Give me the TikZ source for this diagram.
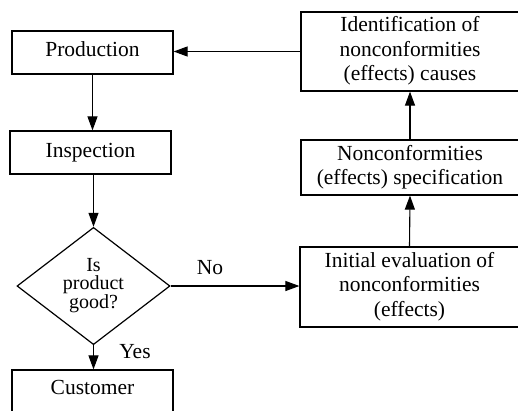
\documentclass[tikz,border=0pt]{standalone}
\usepackage{fontspec}
\setmainfont{Liberation Serif}
\usetikzlibrary{shapes.geometric,arrows.meta}
\tikzset{
  box/.style={draw, line width=1.2pt, rectangle, inner sep=0pt, align=center,
    font=\fontsize{21.5}{24.5}\selectfont},
  decision/.style={draw, line width=1.2pt, diamond, inner sep=0pt, align=center,
    minimum width=153pt, minimum height=103pt, font=\fontsize{20}{19}\selectfont},
  conn/.style={line width=1.1pt, -{Triangle[length=14pt,width=10pt]}},
  lbl/.style={font=\fontsize{21.5}{24.5}\selectfont, inner sep=0pt}
}
\begin{document}
\begin{tikzpicture}[x=1pt,y=-1pt]
\useasboundingbox (0,0) rectangle (518,410);
\node[box, minimum width=161pt, minimum height=43pt] (prod) at (92.5,52.5) {\raisebox{6pt}{Production}};
\node[box, minimum width=161pt, minimum height=43pt] (insp) at (90.5,152.5) {\raisebox{5pt}{Inspection}};
\node[decision] (dec) at (93.5,286) {\raisebox{-2pt}{\begin{tabular}{@{}c@{}}Is\\[-1pt]product\\[-1pt]good?\end{tabular}}};
\node[box, minimum width=161pt, minimum height=43pt] (cust) at (92.5,391.5) {\raisebox{9pt}{Customer}};
\node[box, minimum width=218pt, minimum height=79pt] (ident) at (410,51.5) {\raisebox{-2pt}{\begin{tabular}{@{}c@{}}Identification of\\nonconformities\\(effects) causes\end{tabular}}};
\node[box, minimum width=218pt, minimum height=55pt] (spec) at (410,167.5) {\raisebox{-2pt}{\begin{tabular}{@{}c@{}}Nonconformities\\(effects) specification\end{tabular}}};
\node[box, minimum width=219pt, minimum height=80pt] (init) at (409.5,287) {\raisebox{-2pt}{\begin{tabular}{@{}c@{}}Initial evaluation of\\nonconformities\\(effects)\end{tabular}}};
\draw[conn] (prod.south) -- (prod.south |- insp.north);
\draw[conn] (dec.north |- insp.south) -- (dec.north);
\draw[conn] (dec.south) -- (dec.south |- cust.north);
\draw[conn] (dec.east) -- (dec.east -| init.west);
\draw[conn] (init.north) -- (spec.south);
\draw[conn] (spec.north) -- (ident.south);
\draw[conn] (ident.west) -- (ident.west -| prod.east);
\node[lbl] (no) at (210,268) {No};
\node[lbl] (yes) at (135,352) {Yes};
\end{tikzpicture}
\end{document}
